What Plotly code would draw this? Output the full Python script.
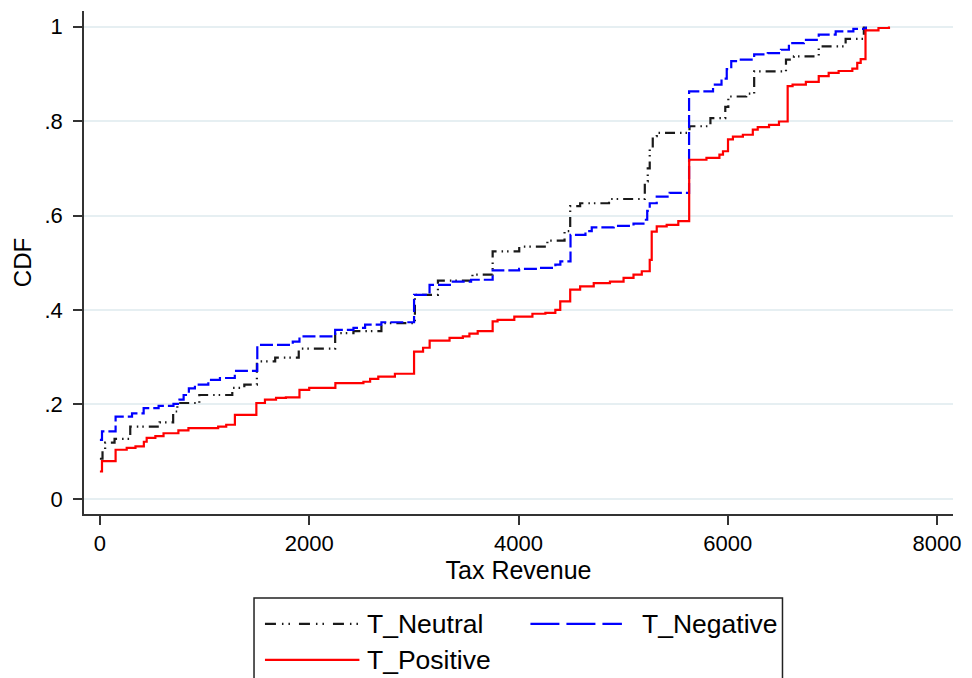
import plotly.graph_objects as go

# ---- data ----
neutral_x = [0, 25, 50, 140, 290, 570, 700, 740, 950, 1265, 1380, 1500, 1675, 1900, 2248,
             2423, 2690, 3010, 3230, 3560, 3753, 4007, 4276, 4440, 4494, 4589, 4865, 5207,
             5235, 5254, 5283, 5321, 5634, 5834, 5976, 6005, 6176, 6252, 6556, 6632, 6869,
             7126, 7300]
neutral_y = [0.085, 0.104, 0.119, 0.127, 0.153, 0.162, 0.185, 0.203, 0.22, 0.235, 0.242,
             0.291, 0.299, 0.318, 0.351, 0.355, 0.372, 0.432, 0.462, 0.475, 0.524, 0.534,
             0.547, 0.567, 0.62, 0.626, 0.635, 0.672, 0.70, 0.74, 0.768, 0.775, 0.789, 0.806,
             0.83, 0.852, 0.858, 0.905, 0.93, 0.937, 0.958, 0.974, 1.0]

negative_x = [0, 20, 150, 307, 418, 561, 703, 760, 800, 850, 908, 1036, 1147, 1289, 1504,
              1843, 1907, 2248, 2423, 2534, 2690, 3002, 3150, 3357, 3547, 3753, 4006, 4200,
              4352, 4400, 4497, 4640, 4700, 4910, 5099, 5194, 5230, 5254, 5321, 5444, 5630,
              5859, 5940, 5990, 6033, 6109, 6252, 6382, 6508, 6584, 6727, 6869, 7031, 7200,
              7320]
negative_y = [0.125, 0.143, 0.174, 0.181, 0.192, 0.197, 0.201, 0.21, 0.22, 0.234, 0.242,
              0.252, 0.256, 0.271, 0.326, 0.333, 0.344, 0.358, 0.362, 0.369, 0.374, 0.432,
              0.453, 0.46, 0.464, 0.484, 0.487, 0.489, 0.496, 0.503, 0.559, 0.567, 0.575,
              0.578, 0.583, 0.591, 0.61, 0.626, 0.64, 0.648, 0.863, 0.877, 0.89, 0.91, 0.927,
              0.93, 0.941, 0.944, 0.951, 0.965, 0.972, 0.983, 0.99, 0.995, 1.0]

positive_x = [0, 20, 150, 256, 340, 420, 447, 530, 608, 750, 846, 1130, 1207, 1290, 1495,
              1577, 1683, 1777, 1907, 2000, 2250, 2518, 2582, 2660, 2819, 3002, 3088, 3151,
              3341, 3468, 3531, 3610, 3753, 3800, 3960, 4133, 4257, 4352, 4399, 4494, 4589,
              4719, 4874, 5004, 5099, 5178, 5254, 5273, 5321, 5416, 5527, 5631, 5796, 5920,
              5954, 6002, 6049, 6144, 6239, 6286, 6394, 6489, 6572, 6619, 6746, 6869, 6964,
              7059, 7190, 7237, 7270, 7316, 7440, 7540]
positive_y = [0.058, 0.08, 0.104, 0.108, 0.111, 0.121, 0.129, 0.133, 0.139, 0.145, 0.150,
              0.153, 0.157, 0.178, 0.203, 0.21, 0.214, 0.215, 0.231, 0.235, 0.245, 0.248,
              0.254, 0.259, 0.265, 0.312, 0.32, 0.335, 0.341, 0.344, 0.35, 0.355, 0.376,
              0.379, 0.386, 0.392, 0.394, 0.40, 0.418, 0.443, 0.45, 0.457, 0.46, 0.468,
              0.475, 0.482, 0.506, 0.566, 0.577, 0.58, 0.588, 0.718, 0.722, 0.729, 0.736,
              0.761, 0.767, 0.771, 0.782, 0.787, 0.792, 0.799, 0.874, 0.877, 0.883, 0.895,
              0.902, 0.906, 0.911, 0.923, 0.931, 0.992, 0.997, 1.0]

series_names = ["T_Neutral", "T_Negative", "T_Positive"]
x_tick_vals = [0, 2000, 4000, 6000, 8000]
x_tick_text = ["0", "2000", "4000", "6000", "8000"]
y_tick_vals = [0, 0.2, 0.4, 0.6, 0.8, 1.0]
y_tick_text = ["0", ".2", ".4", ".6", ".8", "1"]

FONT = "Liberation Sans, Arial, sans-serif"
colors = ["#1a1a1a", "#0000ff", "#ff0000"]
dashes = ["10px,5px,1.5px,4px,1.5px,5px", "13px,4px", "solid"]
legend_dashes = ["11px,6px,1.5px,5px,1.5px,9px", "29px,7px", "solid"]

fig = go.Figure()
for name, xs, ys, c, d in zip(series_names,
                              [neutral_x, negative_x, positive_x],
                              [neutral_y, negative_y, positive_y],
                              colors, dashes):
    fig.add_trace(go.Scatter(x=xs, y=ys, mode="lines", name=name,
                             line=dict(color=c, width=2.2, dash=d, shape="hv"),
                             showlegend=False))

# ---- hand-drawn legend (Stata style) ----
W, H = 874.0, 503.5
L, B = 84.0, 514.5
def px(xp):
    return (xp - L) / W
def py(yp):
    return (B - yp) / H

shapes = [dict(type="rect", xref="paper", yref="paper",
               x0=px(255), x1=px(786.5), y0=py(598.5), y1=py(700),
               line=dict(color="#222222", width=1.5), fillcolor="rgba(0,0,0,0)")]
legend_pos = [(266, 361, 624.5, 367), (533, 625, 624.5, 643), (266, 361, 660.5, 367)]
annotations = []
for (sx0, sx1, sy, tx), name, c, d in zip(legend_pos, series_names, colors, legend_dashes):
    shapes.append(dict(type="line", xref="paper", yref="paper",
                       x0=px(sx0), x1=px(sx1), y0=py(sy), y1=py(sy),
                       line=dict(color=c, width=2.2, dash=d)))
    annotations.append(dict(xref="paper", yref="paper", x=px(tx), y=py(sy),
                            xanchor="left", yanchor="middle", showarrow=False,
                            text=name, font=dict(family=FONT, size=26.5, color="#000000")))

fig.update_layout(
    width=972, height=678,
    margin=dict(l=84, r=14, t=11, b=163.5, pad=0),
    paper_bgcolor="#ffffff", plot_bgcolor="#ffffff",
    font=dict(family=FONT, size=22, color="#000000"),
    shapes=shapes, annotations=annotations,
    xaxis=dict(range=[-152, 8152], tickmode="array", tickvals=x_tick_vals,
               ticktext=x_tick_text, showgrid=False, zeroline=False,
               showline=True, linecolor="#333333", linewidth=1.5,
               ticks="outside", ticklen=9, tickwidth=1.5, tickcolor="#333333",
               tickfont=dict(family=FONT, size=22, color="#000000"),
               title=dict(text="Tax Revenue", standoff=2,
                          font=dict(family=FONT, size=25, color="#000000"))),
    yaxis=dict(range=[-0.032, 1.033], tickmode="array", tickvals=y_tick_vals,
               ticktext=y_tick_text, showgrid=True, gridcolor="#e6eff2", gridwidth=1.5,
               zeroline=False, showline=True, linecolor="#333333", linewidth=1.5,
               ticks="outside", ticklen=9, tickwidth=1.5, tickcolor="#333333",
               ticklabelstandoff=6,
               tickfont=dict(family=FONT, size=22, color="#000000"),
               title=dict(text="CDF", standoff=6,
                          font=dict(family=FONT, size=24, color="#000000"))),
)

fig.write_html("out.html")
